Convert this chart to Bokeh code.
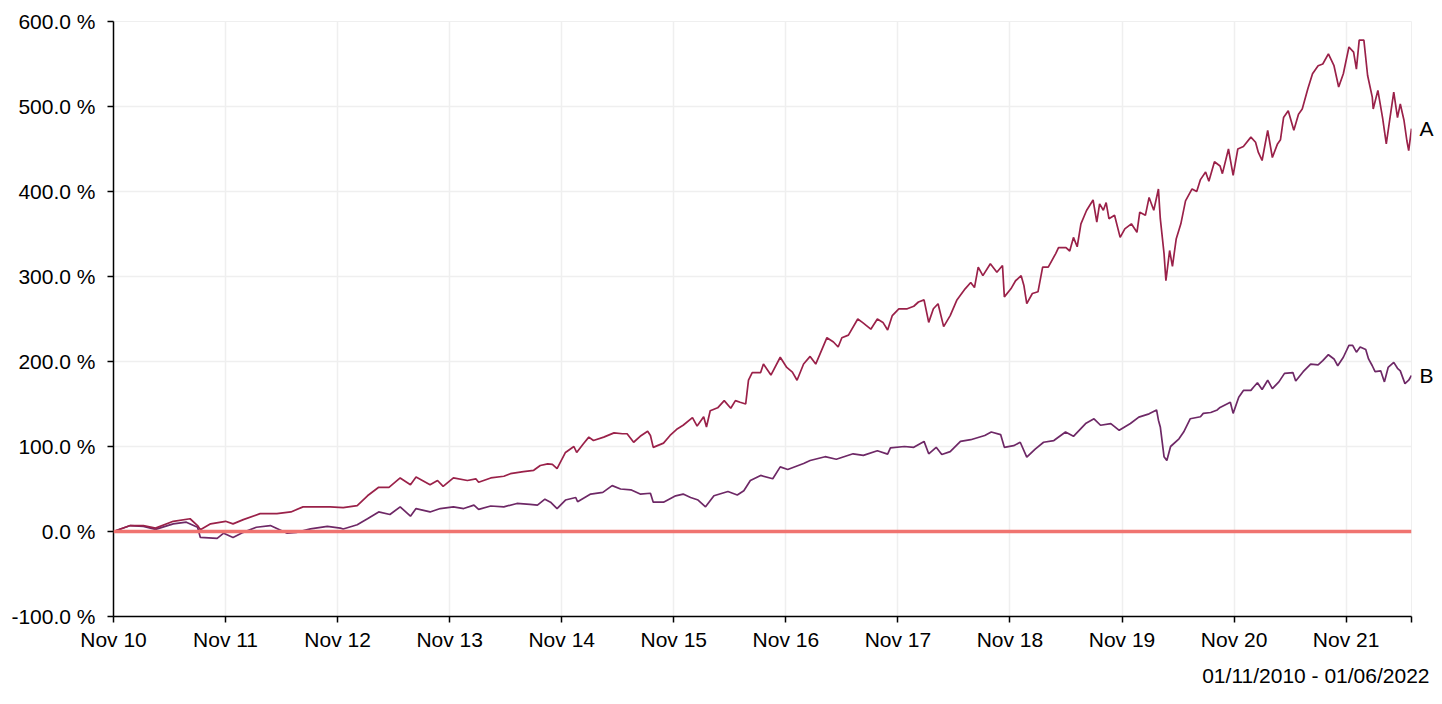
from bokeh.plotting import figure
from bokeh.models import Range1d, FixedTicker, Span, LinearAxis, Title
from bokeh.embed import file_html
from bokeh.resources import INLINE

# months since 01/11/2010 and cumulative performance in %
a_month = [0, 1.8, 3.2, 4.5, 6.4, 8.2, 9.0, 9.3, 10.4, 12.0, 12.8, 13.9, 15.7, 17.5, 19.0, 20.3, 22.2, 23.2,
           24.6, 26.1, 27.2, 28.4, 29.5, 30.7, 31.8, 32.4, 33.9, 34.7, 35.3, 36.4, 37.9, 38.8, 39.1, 40.4,
           41.8, 42.5, 43.9, 45.0, 45.7, 46.5, 47.0, 47.5, 48.4, 49.3, 49.6, 50.3, 50.9, 51.4, 52.5, 53.6,
           54.5, 55.0, 55.7, 56.4, 57.2, 57.5, 57.8, 58.9, 59.6, 60.4, 61.0, 62.0, 62.5, 63.2, 63.5, 63.9,
           64.7, 65.4, 66.1, 66.6, 67.1, 67.7, 68.0, 68.4, 69.3, 69.6, 70.4, 71.4, 72.1, 72.7, 73.2, 73.9,
           74.6, 75.2, 76.4, 77.1, 77.6, 78.0, 78.7, 79.7, 80.2, 81.1, 81.8, 82.4, 82.9, 83.4, 84.1, 85.0,
           85.7, 86.2, 86.8, 87.3, 87.8, 88.3, 88.9, 89.6, 90.3, 91.2, 91.8, 92.2, 92.6, 93.1, 93.9, 94.6,
           95.2, 95.4, 96.1, 96.6, 97.2, 97.5, 97.8, 98.4, 99.0, 99.5, 100.1, 100.9, 101.2, 102.0, 102.4,
           102.8, 103.2, 103.6, 104.2, 104.9, 105.3, 105.6, 106.0, 106.3, 106.6, 107.2, 107.8, 108.3, 109.0,
           109.6, 109.9, 110.5, 110.9, 111.4, 111.9, 112.1, 112.5, 112.7, 113.1, 113.4, 113.8, 114.3, 114.8,
           115.5, 116.0, 116.4, 116.95, 117.3, 117.9, 118.5, 118.75, 119.4, 119.9, 120.4, 121.0, 121.8,
           122.3, 122.6, 123.0, 123.6, 124.1, 124.65, 124.97, 125.3, 125.8, 126.4, 126.9, 127.3, 127.9,
           128.4, 129.0, 129.5, 130.1, 130.7, 131.2, 131.7, 132.3, 132.8, 133.1, 133.4, 133.9, 134.3, 134.8,
           134.9, 135.4, 135.9, 136.3, 136.7, 137.1, 137.5, 137.8, 138.2, 138.5, 138.7, 139.0]
a_value = [0, 7, 7, 4, 12, 15, 7, 2, 9, 12, 9, 14, 21, 21, 23, 29, 29, 29,
           28, 30.5, 42, 52, 52, 63, 55, 64, 55, 60, 53, 63, 60, 62, 58, 63,
           65, 68, 70.5, 72, 77.6, 79.6, 79, 74, 93, 100, 93, 103, 111, 107, 111, 116,
           115, 115, 105, 112, 118, 113, 99, 104, 113, 121, 125, 134, 124, 135, 123, 142,
           145.5, 154, 145, 154, 152, 150, 178, 187, 187, 197, 184, 205, 193, 187.5, 178, 197,
           206, 197, 228, 223, 217, 228, 231, 250, 246, 238, 250, 246, 237, 254, 262, 262,
           265, 270, 272.5, 246, 262, 268, 241, 254, 272, 285.5, 293, 287, 311, 301, 315, 305,
           313, 276, 285.5, 295, 301, 289, 268, 280, 282, 311, 311, 327, 334, 334, 330,
           346, 335, 362, 377.6, 390, 364, 385.5, 378, 387, 368, 372, 346, 356, 362,
           352, 375.6, 372, 393, 378, 403, 368, 327, 295, 330.6, 312, 344, 362, 389,
           403, 400, 414, 423, 412, 435, 430, 421, 450, 419, 450, 453, 464,
           458, 446, 436.5, 472, 440, 456, 461, 487, 495, 472, 491, 497, 521,
           538.5, 548, 550, 562, 548, 523, 538.5, 570, 564, 544, 578, 578, 536.5, 511,
           497, 519, 487, 456, 487, 517, 487, 503, 483.5, 460, 448, 474]

b_month = [0, 1.8, 3.2, 4.5, 6.4, 7.8, 9.0, 9.3, 11.1, 11.8, 12.8, 13.9, 15.3, 16.8, 18.6, 19.6, 21.1,
           22.9, 24.3, 24.6, 26.1, 27.2, 28.4, 29.6, 30.7, 31.8, 32.4, 33.9, 35.0, 36.4, 37.5, 38.6, 39.1,
           40.4, 41.8, 43.2, 44.6, 45.4, 46.2, 46.8, 47.5, 48.4, 49.5, 49.7, 51.1, 52.4, 53.4, 54.3, 55.4,
           56.4, 57.5, 57.8, 58.9, 60.2, 61.0, 61.8, 62.6, 63.4, 64.3, 65.8, 66.8, 67.5, 68.2, 69.3, 70.6,
           71.4, 72.2, 73.9, 74.6, 76.2, 77.4, 79.2, 80.3, 81.8, 82.9, 83.2, 84.7, 85.7, 86.8, 87.3, 88.1,
           88.7, 89.6, 90.7, 91.8, 93.3, 94.0, 95.0, 95.4, 96.4, 97.1, 97.8, 98.7, 99.6, 100.7, 101.95,
           102.8, 104.1, 105.0, 105.7, 106.8, 107.7, 108.9, 109.8, 110.9, 111.7, 111.9, 112.1, 112.5,
           112.8, 113.2, 114.1, 114.6, 115.3, 116.4, 116.7, 117.5, 118.2, 118.5, 119.6, 119.9, 120.5,
           121.0, 121.8, 122.1, 122.5, 123.0, 123.6, 124.1, 124.8, 125.4, 126.3, 126.6, 127.4, 128.2,
           129.0, 129.5, 130.1, 130.7, 131.1, 131.7, 132.3, 132.7, 133.1, 133.5, 134.1, 134.4, 134.8,
           135.1, 135.7, 136.1, 136.5, 137.1, 137.5, 137.8, 138.3, 138.7, 139.0]
b_value = [0, 7, 6, 2.5, 9, 11, 5, -7, -8, -2, -7, -1, 5, 7, -2, -1, 3,
           6, 4, 3, 8, 15, 23, 20, 29, 18, 27, 23, 27, 29, 27, 31, 26,
           30, 29, 33, 32, 31, 38, 34.5, 27, 37, 40, 35, 44, 46, 54, 50, 49,
           44, 45, 34.5, 34.5, 42, 44, 40, 37, 29, 42, 47, 43, 48, 60, 66, 62,
           76, 73, 80, 83.5, 88, 85, 91.4, 89.6, 95, 91, 98.4, 100, 99, 106, 91.4, 99,
           90.6, 94, 106, 108, 113, 117, 114, 99, 101, 105, 87.5, 97, 105, 107, 117,
           112, 127, 132.6, 125, 127, 119, 127, 134.5, 138.4, 143, 131, 123, 88,
           83.5, 100, 109, 117, 132.6, 135, 139, 140, 143, 146, 152, 139, 158,
           166, 166, 170, 175, 167, 178, 168, 176, 186, 187, 177, 188, 197,
           196, 201, 208, 203, 195, 205, 219, 219, 211, 217, 214, 203, 195,
           188, 189, 176, 193, 199, 192, 189, 174, 178, 183.5]

x_ticks = [0, 12, 24, 36, 48, 60, 72, 84, 96, 108, 120, 132, 139]
x_tick_labels = ["Nov 10", "Nov 11", "Nov 12", "Nov 13", "Nov 14", "Nov 15", "Nov 16",
                 "Nov 17", "Nov 18", "Nov 19", "Nov 20", "Nov 21", ""]
y_ticks = [-100, 0, 100, 200, 300, 400, 500, 600]
y_tick_labels = ["-100.0 %", "0.0 %", "100.0 %", "200.0 %", "300.0 %", "400.0 %", "500.0 %", "600.0 %"]
series_names = ["A", "B"]
period_text = "01/11/2010 - 01/06/2022"

FONT = "Liberation Sans"
FS = "21px"
COL_A = "#9a2149"
COL_B = "#6e2866"

p = figure(width=1440, height=696, output_backend="svg", toolbar_location=None,
           x_range=Range1d(0, 139), y_range=Range1d(-100, 600),
           min_border_left=113, min_border_right=29, min_border_top=21, min_border_bottom=80)
p.outline_line_color = "#efefef"
p.background_fill_color = "white"
p.border_fill_color = "white"

for ax in (p.xaxis[0], p.yaxis[0]):
    ax.axis_line_color = "black"
    ax.axis_line_width = 1.5
    ax.major_tick_line_color = "black"
    ax.major_tick_line_width = 1.5
    ax.major_tick_out = 6
    ax.major_tick_in = 0
    ax.minor_tick_out = 0
    ax.minor_tick_in = 0
    ax.major_label_text_font = FONT
    ax.major_label_text_font_size = FS
    ax.major_label_text_color = "black"

p.xaxis[0].ticker = FixedTicker(ticks=x_ticks)
p.xaxis[0].major_label_overrides = {t: l for t, l in zip(x_ticks, x_tick_labels)}
p.xaxis[0].major_label_standoff = 5
p.yaxis[0].ticker = FixedTicker(ticks=y_ticks)
p.yaxis[0].major_label_overrides = {t: l for t, l in zip(y_ticks, y_tick_labels)}
p.yaxis[0].major_label_standoff = 12

p.xgrid[0].ticker = FixedTicker(ticks=x_ticks)
p.ygrid[0].ticker = FixedTicker(ticks=y_ticks)
for g in (p.xgrid[0], p.ygrid[0]):
    g.grid_line_color = "#efefef"
    g.grid_line_width = 1.5

p.add_layout(Span(location=0, dimension="width", line_color="#f07470", line_width=3.5))

p.line(b_month, b_value, line_color=COL_B, line_width=1.7)
p.line(a_month, a_value, line_color=COL_A, line_width=1.7)

# end-of-line series names, placed by a label-only axis on the right
end_vals = [a_value[-1], b_value[-1]]
name_axis = LinearAxis(ticker=FixedTicker(ticks=end_vals),
                       major_label_overrides={v: n for v, n in zip(end_vals, series_names)})
name_axis.axis_line_color = None
name_axis.major_tick_line_color = None
name_axis.minor_tick_line_color = None
name_axis.major_tick_out = 0
name_axis.major_tick_in = 0
name_axis.major_label_standoff = 8
name_axis.major_label_text_font = FONT
name_axis.major_label_text_font_size = FS
name_axis.major_label_text_color = "black"
p.add_layout(name_axis, "right")

sub = Title(text=period_text, align="right", offset=-18, standoff=17,
            text_font=FONT, text_font_size=FS, text_font_style="normal", text_color="black")
p.add_layout(sub, "below")

open("out.html", "w").write(file_html(p, INLINE))
